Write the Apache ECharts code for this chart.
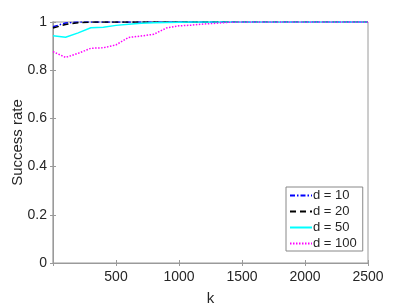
<!DOCTYPE html>
<html>
<head>
<meta charset="utf-8">
<script src="https://cdn.jsdelivr.net/npm/echarts@6/dist/echarts.min.js"></script>
<style>
html, body { margin: 0; padding: 0; background: #fff; }
#chart { width: 407px; height: 305px; }
</style>
</head>
<body>
<div id="chart"></div>
<script>
// k values (x axis)
var kValues = [0, 100, 200, 300, 400, 500, 600, 700, 800, 900, 1000, 1100, 1200, 1300,
    1400, 1500, 1600, 1700, 1800, 1900, 2000, 2100, 2200, 2300, 2400, 2500];

// success rate per dimension d
var rateD10 = [0.980, 0.996, 1, 1, 1, 1, 1, 1, 1, 1, 1, 1, 1, 1, 1, 1, 1, 1, 1, 1, 1, 1, 1, 1, 1, 1];
var rateD20 = [0.975, 0.990, 0.997, 1, 1, 1, 1, 1, 1, 1, 1, 1, 1, 1, 1, 1, 1, 1, 1, 1, 1, 1, 1, 1, 1, 1];
var rateD50 = [0.943, 0.937, 0.955, 0.976, 0.978, 0.986, 0.991, 0.995, 0.997, 0.998, 0.999, 1, 1, 1,
    1, 1, 1, 1, 1, 1, 1, 1, 1, 1, 1, 1];
var rateD100 = [0.877, 0.853, 0.870, 0.891, 0.893, 0.905, 0.936, 0.942, 0.949, 0.975, 0.984, 0.987,
    0.992, 0.995, 0.999, 1, 1, 1, 1, 1, 1, 1, 1, 1, 1, 1];

var seriesNames = ['d = 10', 'd = 20', 'd = 50', 'd = 100'];

function pairs(ys) {
    return kValues.map(function (k, i) { return [k, ys[i]]; });
}

var myChart = echarts.init(document.getElementById('chart'));

var axisGray = '#9a9a9a';
var textColor = '#262626';
var fontFamily = 'Liberation Sans, Arial, sans-serif';

option = {
    animation: false,
    backgroundColor: '#fff',
    grid: {
        left: 53,
        right: 39,
        top: 22,
        bottom: 42,
        outerBoundsMode: 'none',
        containLabel: false,
        show: true,
        borderColor: axisGray,
        borderWidth: 1
    },
    legend: {
        orient: 'vertical',
        left: 286,
        top: 187,
        padding: [2, 6, 1, 3],
        itemGap: 3,
        itemWidth: 22,
        itemHeight: 15,
        borderColor: '#888',
        borderWidth: 1,
        backgroundColor: '#fff',
        itemStyle: { opacity: 0 },
        textStyle: { fontSize: 13, color: textColor, fontFamily: fontFamily, padding: [0, 0, 0, -4] },
        data: seriesNames
    },
    xAxis: [{
        type: 'value',
        min: 0,
        max: 2500,
        interval: 500,
        name: 'k',
        nameLocation: 'middle',
        nameGap: 28,
        nameMoveOverlap: false,
        nameTextStyle: { fontSize: 15, color: textColor, fontFamily: fontFamily },
        axisLine: { show: true, lineStyle: { color: axisGray, width: 1 } },
        axisTick: { show: true, inside: true, length: 3, lineStyle: { color: axisGray } },
        axisLabel: {
            fontSize: 14, color: textColor, fontFamily: fontFamily, margin: 7,
            formatter: function (v) { return v === 0 ? '' : String(v); }
        },
        splitLine: { show: false }
    }, {
        type: 'value',
        position: 'top',
        min: 0,
        max: 2500,
        interval: 500,
        axisLine: { show: true, lineStyle: { color: axisGray } },
        axisTick: { show: true, inside: true, length: 3, lineStyle: { color: axisGray } },
        axisLabel: { show: false },
        splitLine: { show: false }
    }],
    yAxis: [{
        type: 'value',
        min: 0,
        max: 1,
        interval: 0.2,
        name: 'Success rate',
        nameLocation: 'middle',
        nameGap: 28,
        nameMoveOverlap: false,
        nameTextStyle: { fontSize: 15, color: textColor, fontFamily: fontFamily },
        axisLine: { show: true, lineStyle: { color: '#c0c0c0', width: 2 } },
        axisTick: { show: true, inside: true, length: 3, lineStyle: { color: axisGray } },
        axisLabel: { fontSize: 14, color: textColor, fontFamily: fontFamily, margin: 6 },
        splitLine: { show: false }
    }, {
        type: 'value',
        position: 'right',
        min: 0,
        max: 1,
        interval: 0.2,
        axisLine: { show: true, lineStyle: { color: axisGray } },
        axisTick: { show: true, inside: true, length: 3, lineStyle: { color: axisGray } },
        axisLabel: { show: false },
        splitLine: { show: false }
    }],
    series: [{
        name: seriesNames[0],
        type: 'line',
        symbol: 'none',
        color: '#0000ff',
        lineStyle: { width: 1.5, type: [5, 2, 1.5, 2] },
        data: pairs(rateD10)
    }, {
        name: seriesNames[1],
        type: 'line',
        symbol: 'none',
        color: '#000000',
        lineStyle: { width: 1.5, type: [6, 4] },
        data: pairs(rateD20)
    }, {
        name: seriesNames[2],
        type: 'line',
        symbol: 'none',
        color: '#00ffff',
        lineStyle: { width: 1.5 },
        data: pairs(rateD50)
    }, {
        name: seriesNames[3],
        type: 'line',
        symbol: 'none',
        color: '#ff00ff',
        lineStyle: { width: 1.5, type: [1.5, 1.5] },
        data: pairs(rateD100)
    }]
};

myChart.clear();
myChart.setOption(option);
</script>
</body>
</html>
